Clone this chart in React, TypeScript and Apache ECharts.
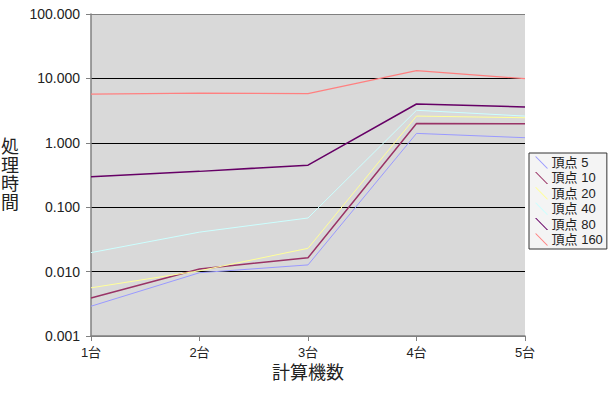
import React, { useEffect, useRef } from "react";
import * as echarts from "echarts";

const categories = ["1台", "2台", "3台", "4台", "5台"];
const seriesNames = ["頂点 5", "頂点 10", "頂点 20", "頂点 40", "頂点 80", "頂点 160"];
const v5 = [0.0029, 0.0096, 0.0127, 1.4, 1.2];
const v10 = [0.0039, 0.011, 0.0164, 2.0, 1.98];
const v20 = [0.0056, 0.0103, 0.023, 2.6, 2.45];
const v40 = [0.0197, 0.041, 0.068, 3.2, 2.6];
const v80 = [0.298, 0.36, 0.45, 4.0, 3.6];
const v160 = [5.7, 5.9, 5.8, 13.2, 9.9];
const seriesValues = [v5, v10, v20, v40, v80, v160];
const colors = ["#9999ff", "#993366", "#ffff99", "#ccffff", "#660066", "#ff8080"];
const widths = [1, 1.5, 1, 1, 1.5, 1.2];

const FONT = "'Liberation Sans', 'Noto Sans CJK JP', sans-serif";

export default function App() {
  const ref = useRef<HTMLDivElement>(null);
  useEffect(() => {
    if (!ref.current) return;
    const chart = echarts.init(ref.current, undefined, { renderer: "svg" });
    chart.setOption({
      animation: false,
      backgroundColor: "#ffffff",
      grid: {
        left: 91,
        right: 87,
        top: 14,
        bottom: 59,
        show: true,
        backgroundColor: "#d9d9d9",
        borderWidth: 0,
        containLabel: false,
        outerBoundsMode: "none",
      },
      legend: {
        orient: "vertical",
        left: 529,
        top: 153,
        width: 79,
        padding: [3, 4, 3, 6],
        itemGap: 2.4,
        itemWidth: 14,
        itemHeight: 12,
        backgroundColor: "#f4f4f4",
        borderColor: "#333333",
        borderWidth: 1,
        icon: "path://M0,0 L1.2,0 L12,11 L10.8,11 Z",
        textStyle: { fontFamily: FONT, fontSize: 13, color: "#222", padding: [0, 0, 0, -2] },
        data: seriesNames,
      },
      xAxis: {
        type: "category",
        data: categories,
        boundaryGap: false,
        name: "計算機数",
        nameLocation: "middle",
        nameGap: 28,
        nameTextStyle: { fontFamily: FONT, fontSize: 18, color: "#222" },
        axisLine: { lineStyle: { color: "#808080", width: 1.5 } },
        axisTick: { show: true, length: 5, alignWithLabel: true, lineStyle: { color: "#808080" } },
        axisLabel: { fontFamily: FONT, fontSize: 13, color: "#222", margin: 10 },
        splitLine: { show: false },
      },
      yAxis: {
        type: "log",
        logBase: 10,
        min: 0.001,
        max: 100,
        name: "処\n理\n時\n間",
        nameLocation: "middle",
        nameRotate: 0,
        nameGap: 72,
        nameTextStyle: { fontFamily: FONT, fontSize: 18, color: "#222", lineHeight: 18.5 },
        axisLine: { show: true, lineStyle: { color: "#808080", width: 1.5 } },
        axisTick: { show: true, length: 5, lineStyle: { color: "#808080" } },
        axisLabel: {
          fontFamily: FONT,
          fontSize: 14,
          color: "#222",
          margin: 11,
          formatter: (v: number) => v.toFixed(3),
        },
        splitLine: {
          show: true,
          lineStyle: {
            color: ["#808080", "#000000", "#000000", "#000000", "#000000", "#808080"],
            width: 1.2,
          },
        },
      },
      series: seriesNames.map((name, i) => ({
        name,
        type: "line",
        data: seriesValues[i],
        showSymbol: false,
        symbol: "none",
        color: colors[i],
        lineStyle: { color: colors[i], width: widths[i] },
      })),
    });
    return () => chart.dispose();
  }, []);
  return <div ref={ref} style={{ width: 612, height: 395, position: "absolute", left: 0, top: 0 }} />;
}
